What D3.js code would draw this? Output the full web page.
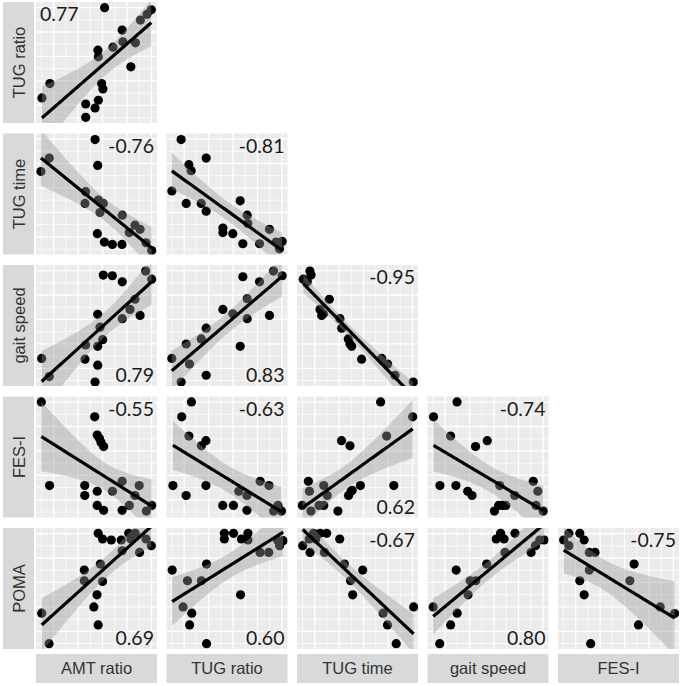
<!DOCTYPE html>
<html>
<head>
<meta charset="utf-8">
<script src="https://cdn.jsdelivr.net/npm/d3@7"></script>
<style>
  body { margin: 0; background: #fff; }
</style>
</head>
<body>
<svg id="chart" width="685" height="686"></svg>
<script>
const ROW_VARS = ['TUG ratio', 'TUG time', 'gait speed', 'FES-I', 'POMA'];
const COL_VARS = ['AMT ratio', 'TUG ratio', 'TUG time', 'gait speed', 'FES-I'];

// values are relative scores (0-100 of each variable's plotted range)
const tugRatioVsAmt = [[56.7,95.3],[95.3,93.6],[91.8,89.8],[86.3,85.1],[71.2,76.8],[71.8,67.1],[82.2,66.3],[63.6,62.7],[51.2,60.2],[51.5,54.7],[78.4,46.4],[11.5,32.6],[54.2,32.6],[55.3,28.2],[4.9,20.7],[51.5,18.8],[41.1,15.7],[48.8,12.4],[41.1,4.7]];

const tugTimeVsAmt = [[48.8,95.0],[11.0,79.7],[4.1,68.6],[51.0,73.6],[41.0,51.9],[40.5,42.2],[51.5,45.0],[55.6,42.2],[52.9,34.7],[71.3,32.5],[50.7,17.2],[56.5,10.3],[63.1,8.3],[71.1,8.3],[77.1,18.1],[81.8,24.2],[86.0,20.8],[90.9,9.7],[95.6,3.3]];
const tugTimeVsTugRatio = [[12.1,95.0],[32.8,79.7],[18.5,74.2],[20.4,69.2],[4.4,52.5],[16.3,42.2],[28.7,42.2],[32.8,35.8],[60.9,44.4],[66.7,32.5],[67.2,25.6],[46.6,21.9],[46.6,18.1],[54.8,17.2],[63.1,8.9],[76.9,8.9],[85.1,20.8],[90.6,10.3],[95.6,10.8],[93.4,4.7]];

const gaitVsAmt = [[4.7,22.8],[11.0,7.8],[55.6,91.7],[63.1,91.1],[71.3,86.1],[90.6,95.0],[95.6,88.3],[81.8,71.7],[77.7,63.3],[71.3,55.6],[86.0,58.3],[51.0,59.2],[52.9,48.6],[55.1,38.3],[41.0,33.9],[51.0,32.8],[40.5,22.2],[51.0,17.2],[48.8,3.3]];
const gaitVsTugRatio = [[4.4,22.8],[16.3,34.7],[19.0,18.1],[12.1,3.3],[28.7,38.9],[32.8,47.8],[32.8,8.9],[46.6,63.3],[54.8,59.7],[66.7,72.2],[66.7,55.6],[60.9,32.8],[63.1,90.3],[76.9,86.1],[85.1,58.3],[88.4,95.0],[95.6,91.1]];
const gaitVsTugTime = [[10.7,95.0],[11.6,91.7],[5.2,88.3],[8.5,86.1],[26.7,71.7],[19.0,63.3],[21.8,59.7],[20.4,58.3],[35.5,55.6],[36.9,47.8],[42.4,38.9],[43.8,34.7],[45.2,32.8],[53.4,22.2],[70.0,22.8],[74.9,18.1],[81.0,8.9],[96.1,3.3]];

const fesVsAmt = [[4.4,95.5],[48.5,83.2],[50.6,68.2],[52.4,65.4],[53.8,61.9],[55.9,58.6],[11.2,26.4],[40.3,26.4],[40.3,18.2],[50.6,21.7],[63.2,21.7],[71.2,29.9],[81.8,18.2],[85.3,26.4],[50.6,10.0],[55.9,5.9],[71.2,5.9],[77.1,10.0],[91.2,5.3],[95.6,10.0]];
const fesVsTugRatio = [[20.6,95.5],[12.6,83.2],[18.5,67.3],[28.8,59.2],[32.6,63.5],[5.3,26.4],[16.2,18.2],[32.6,26.4],[46.5,10.0],[55.3,10.0],[59.7,21.7],[66.5,18.2],[66.5,5.9],[77.4,29.9],[84.7,26.4],[92.1,10.0],[88.5,5.3],[95.0,5.3]];
const fesVsTugTime = [[69.1,95.5],[95.6,83.2],[74.1,67.3],[36.8,63.5],[43.8,59.2],[9.4,29.9],[10.3,21.7],[22.1,26.4],[25.0,18.2],[4.4,10.0],[11.5,5.3],[18.2,10.0],[22.1,10.0],[33.8,5.3],[42.6,18.2],[44.7,21.7],[45.6,22.5],[52.4,26.4],[80.0,26.4]];
const fesVsGait = [[24.4,95.5],[5.0,83.2],[19.1,67.3],[39.7,58.6],[49.4,63.5],[10.3,26.4],[23.5,26.4],[33.2,21.7],[36.8,18.2],[59.7,26.4],[72.1,18.2],[55.3,5.3],[58.8,10.0],[61.8,10.0],[64.7,10.0],[87.4,29.9],[91.2,21.7],[89.7,10.0],[95.6,5.3]];

const pomaVsAmt = [[4.7,29.6],[10.8,4.4],[39.9,65.2],[39.9,56.4],[51.4,95.6],[55.0,90.9],[62.2,90.1],[53.2,70.2],[55.0,55.8],[50.4,44.8],[47.8,34.8],[51.4,19.9],[70.5,90.1],[76.6,95.6],[82.0,95.6],[78.4,90.9],[71.2,81.2],[85.6,79.8],[91.0,90.9],[95.3,85.4]];
const pomaVsTugRatio = [[4.7,65.2],[13.7,34.8],[17.3,56.4],[20.9,29.6],[19.1,19.9],[28.8,56.4],[33.1,70.2],[33.1,4.4],[47.8,95.6],[47.8,90.9],[55.4,95.6],[61.9,90.9],[67.3,95.6],[67.3,90.1],[61.2,44.8],[77.3,79.8],[84.5,79.8],[91.7,90.1],[93.5,85.4],[96.4,89.5]];
const pomaVsTugTime = [[4.7,85.4],[10.1,90.9],[10.8,79.8],[13.7,95.6],[19.1,95.6],[24.5,95.6],[22.7,79.8],[15.5,90.9],[35.3,90.9],[39.2,70.2],[54.3,65.2],[44.2,56.4],[46.0,44.8],[71.2,29.6],[74.8,19.9],[82.0,4.4],[96.4,34.8]];
const pomaVsGait = [[4.7,34.8],[10.1,4.4],[19.1,19.9],[23.7,65.2],[24.5,29.6],[33.5,44.8],[35.3,56.4],[39.9,56.4],[48.9,70.2],[56.8,90.9],[60.4,95.6],[63.3,90.9],[72.3,95.6],[64.0,79.8],[85.6,79.8],[89.2,85.4],[92.8,90.1],[96.4,90.1]];
const pomaVsFes = [[4.7,90.1],[9.0,95.6],[18.0,95.6],[21.6,90.1],[9.0,85.4],[25.9,79.8],[30.6,79.8],[25.9,65.2],[18.0,56.4],[21.6,44.8],[27.0,4.4],[62.9,70.2],[59.4,56.4],[66.5,19.9],[84.5,34.8],[96.4,29.3]];

// correlation labels, in the order of PANELS below
const CORR_LABELS = ['0.77', '-0.76', '-0.81', '0.79', '0.83', '-0.95',
  '-0.55', '-0.63', '0.62', '-0.74', '0.69', '0.60', '-0.67', '0.80', '-0.75'];

const PANELS = [
  { row: 0, col: 0, points: tugRatioVsAmt, corner: 'tl' },
  { row: 1, col: 0, points: tugTimeVsAmt, corner: 'tr' },
  { row: 1, col: 1, points: tugTimeVsTugRatio, corner: 'tr' },
  { row: 2, col: 0, points: gaitVsAmt, corner: 'br' },
  { row: 2, col: 1, points: gaitVsTugRatio, corner: 'br' },
  { row: 2, col: 2, points: gaitVsTugTime, corner: 'tr' },
  { row: 3, col: 0, points: fesVsAmt, corner: 'tr' },
  { row: 3, col: 1, points: fesVsTugRatio, corner: 'tr' },
  { row: 3, col: 2, points: fesVsTugTime, corner: 'br' },
  { row: 3, col: 3, points: fesVsGait, corner: 'tr' },
  { row: 4, col: 0, points: pomaVsAmt, corner: 'br' },
  { row: 4, col: 1, points: pomaVsTugRatio, corner: 'br' },
  { row: 4, col: 2, points: pomaVsTugTime, corner: 'tr' },
  { row: 4, col: 3, points: pomaVsGait, corner: 'br' },
  { row: 4, col: 4, points: pomaVsFes, corner: 'tr' }
];

const PANEL_W = 121;
const PANEL_H = 121;
const colX = d3.range(5).map(i => 36 + i * 130.5);
const rowY = d3.range(5).map(i => 2 + i * 131.5);

const svg = d3.select('#chart');

// linear fit with 95% confidence band, like geom_smooth(method = 'lm')
function linearFit (pts) {
  const n = pts.length;
  const mx = d3.mean(pts, d => d[0]);
  const my = d3.mean(pts, d => d[1]);
  const sxx = d3.sum(pts, d => (d[0] - mx) ** 2);
  const sxy = d3.sum(pts, d => (d[0] - mx) * (d[1] - my));
  const b = sxy / sxx;
  const a = my - b * mx;
  const s = Math.sqrt(d3.sum(pts, d => (d[1] - a - b * d[0]) ** 2) / (n - 2));
  const t = 1.96 + 2.4 / (n - 2);
  const [x0, x1] = d3.extent(pts, d => d[0]);
  return d3.range(81).map(i => {
    const x = x0 + (x1 - x0) * i / 80;
    const y = a + b * x;
    const se = s * Math.sqrt(1 / n + (x - mx) ** 2 / sxx);
    return { x, y, lo: y - t * se, hi: y + t * se };
  });
}

const gridVals = d3.range(10).map(i => 4.5 + i * 10.1);

PANELS.forEach((p, i) => {
  const x = d3.scaleLinear().domain([0, 100]).range([0, PANEL_W]);
  const y = d3.scaleLinear().domain([0, 100]).range([PANEL_H, 0]);
  const g = svg.append('g')
    .attr('transform', `translate(${colX[p.col]},${rowY[p.row]})`);

  const clipId = `clip-${i}`;
  g.append('clipPath').attr('id', clipId)
    .append('rect').attr('width', PANEL_W).attr('height', PANEL_H);

  g.append('rect')
    .attr('width', PANEL_W).attr('height', PANEL_H)
    .attr('fill', '#ebebeb');

  g.selectAll('.vgrid').data(gridVals).enter().append('line')
    .attr('x1', d => x(d)).attr('x2', d => x(d))
    .attr('y1', 0).attr('y2', PANEL_H)
    .attr('stroke', '#fff')
    .attr('stroke-width', (d, j) => j % 2 ? 1.3 : 0.7);
  g.selectAll('.hgrid').data(gridVals).enter().append('line')
    .attr('y1', d => y(d)).attr('y2', d => y(d))
    .attr('x1', 0).attr('x2', PANEL_W)
    .attr('stroke', '#fff')
    .attr('stroke-width', (d, j) => j % 2 ? 1.3 : 0.7);

  const inner = g.append('g').attr('clip-path', `url(#${clipId})`);

  inner.selectAll('circle').data(p.points).enter().append('circle')
    .attr('cx', d => x(d[0]))
    .attr('cy', d => y(d[1]))
    .attr('r', 4.6)
    .attr('fill', '#000');

  const fit = linearFit(p.points);
  inner.append('path')
    .datum(fit)
    .attr('fill', '#999999')
    .attr('fill-opacity', 0.4)
    .attr('d', d3.area().x(d => x(d.x)).y0(d => y(d.lo)).y1(d => y(d.hi)));
  inner.append('path')
    .datum(fit)
    .attr('fill', 'none')
    .attr('stroke', '#000')
    .attr('stroke-width', 3.2)
    .attr('d', d3.line().x(d => x(d.x)).y(d => y(d.y)));

  const label = g.append('text')
    .text(CORR_LABELS[i])
    .attr('font-family', 'Lato, sans-serif')
    .attr('font-size', 19.5)
    .attr('fill', '#1a1a1a');
  if (p.corner === 'tl') {
    label.attr('x', 4).attr('y', 19).attr('text-anchor', 'start');
  } else if (p.corner === 'tr') {
    label.attr('x', PANEL_W - 3).attr('y', 19).attr('text-anchor', 'end');
  } else {
    label.attr('x', PANEL_W - 3).attr('y', PANEL_H - 4).attr('text-anchor', 'end');
  }
});

// row strips on the left
const rowStrips = svg.selectAll('.row-strip').data(ROW_VARS).enter().append('g')
  .attr('transform', (d, i) => `translate(3,${rowY[i]})`);
rowStrips.append('rect')
  .attr('width', 31).attr('height', PANEL_H)
  .attr('fill', '#d9d9d9');
rowStrips.append('text')
  .attr('transform', `translate(16,${PANEL_H / 2}) rotate(-90)`)
  .attr('text-anchor', 'middle')
  .attr('dy', '0.36em')
  .attr('font-family', '"Liberation Sans", Arial, sans-serif')
  .attr('font-size', 16.5)
  .attr('fill', '#333')
  .text(d => d);

// column strips at the bottom
const colStrips = svg.selectAll('.col-strip').data(COL_VARS).enter().append('g')
  .attr('transform', (d, i) => `translate(${colX[i]},654)`);
colStrips.append('rect')
  .attr('width', PANEL_W).attr('height', 29)
  .attr('fill', '#d9d9d9');
colStrips.append('text')
  .attr('x', PANEL_W / 2).attr('y', 14.5)
  .attr('text-anchor', 'middle')
  .attr('dy', '0.36em')
  .attr('font-family', '"Liberation Sans", Arial, sans-serif')
  .attr('font-size', 16.5)
  .attr('fill', '#333')
  .text(d => d);
</script>
</body>
</html>
